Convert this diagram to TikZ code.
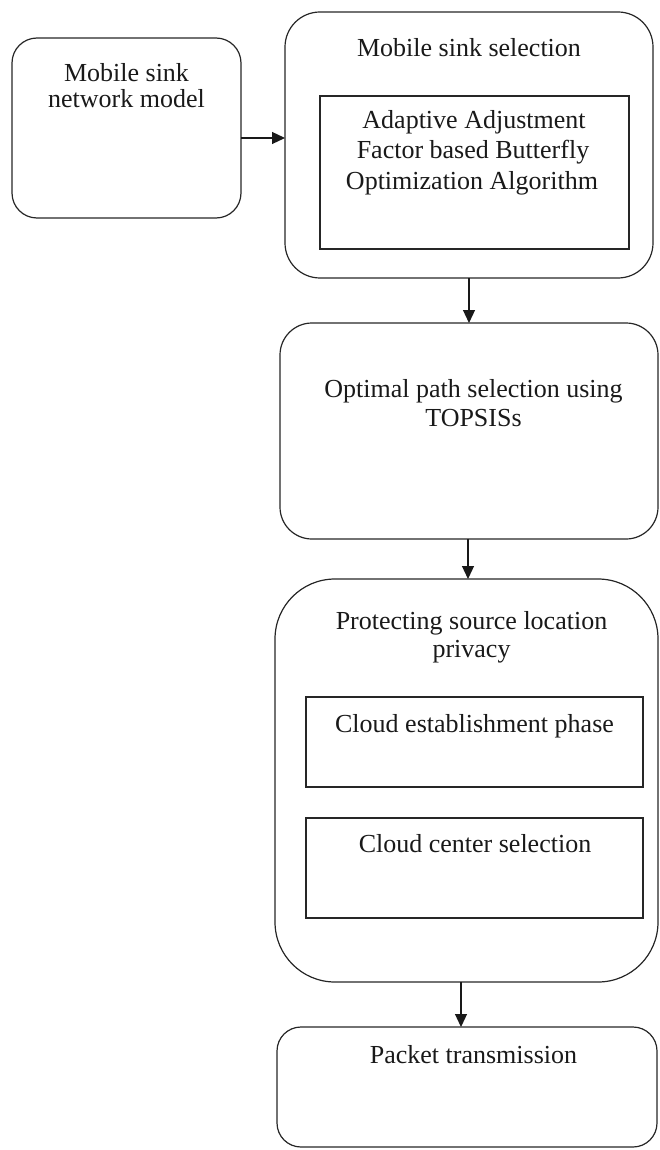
\documentclass[tikz,border=0pt]{standalone}
\usepackage{fontspec}
\setmainfont{Liberation Serif}
\usetikzlibrary{arrows.meta}
\begin{document}
\begin{tikzpicture}[x=1pt,y=1pt,
  line width=1.2pt,
  every node/.style={inner sep=0pt,outer sep=0pt},
  rbox/.style={draw=black!85,minimum width=#1},
  plain/.style={draw=black!85,rectangle},
  lbl/.style={anchor=base,font=\fontsize{26}{30}\selectfont,text=black!90},
  arr/.style={draw=black!90,-{Triangle[length=13pt,width=12pt]}}]
\useasboundingbox (0,0) rectangle (659,-1150);

% outer stages
\node[rbox=229, minimum height=180, rounded corners=25] (net)  at (126.5,-128) {};
\node[rbox=368, minimum height=266, rounded corners=35] (sel)  at (469,-145) {};
\node[rbox=378, minimum height=216, rounded corners=32] (path) at (469,-431) {};
\node[rbox=383, minimum height=403, rounded corners=60] (priv) at (466.5,-780.5) {};
\node[rbox=380, minimum height=120, rounded corners=24] (pkt)  at (467,-1087) {};

% inner blocks
\node[plain, minimum width=309, minimum height=153] (bfo)    at (474.5,-172.5) {};
\node[plain, minimum width=337, minimum height=90]  (cest)   at (474.5,-742) {};
\node[plain, minimum width=337, minimum height=100] (ccent)  at (474.5,-868) {};

% labels
\node[lbl] (netA) at (126.5,-82)  {Mobile sink};
\node[lbl] (netB) at (126.5,-108) {network model};
\node[lbl] (selT) at (469,-57)    {Mobile sink selection};
\node[lbl] (bfoA) at (474,-129)   {Adaptive Adjustment};
\node[lbl] (bfoB) at (473,-159)   {Factor based Butterfly};
\node[lbl] (bfoC) at (472,-190)   {Optimization Algorithm};
\node[lbl] (pthA) at (473.5,-397) {Optimal path selection using};
\node[lbl] (pthB) at (473.5,-426) {TOPSISs};
\node[lbl] (prvA) at (471.5,-629) {Protecting source location};
\node[lbl] (prvB) at (471.5,-657) {privacy};
\node[lbl] (cesT) at (474.5,-732) {Cloud establishment phase};
\node[lbl] (ccnT) at (475,-852)   {Cloud center selection};
\node[lbl] (pktT) at (473.5,-1063){Packet transmission};

% connectors
\draw[arr] ([yshift=-10pt]net.east) -- ([yshift=-10pt]net.east -| sel.west);
\draw[arr] (sel.south) -- (path.north);
\draw[arr] ([xshift=-1pt]path.south) -- ([xshift=-1pt]path.south |- priv.north);
\draw[arr] ([xshift=-5.5pt]priv.south) -- ([xshift=-5.5pt]priv.south |- pkt.north);
\end{tikzpicture}
\end{document}
